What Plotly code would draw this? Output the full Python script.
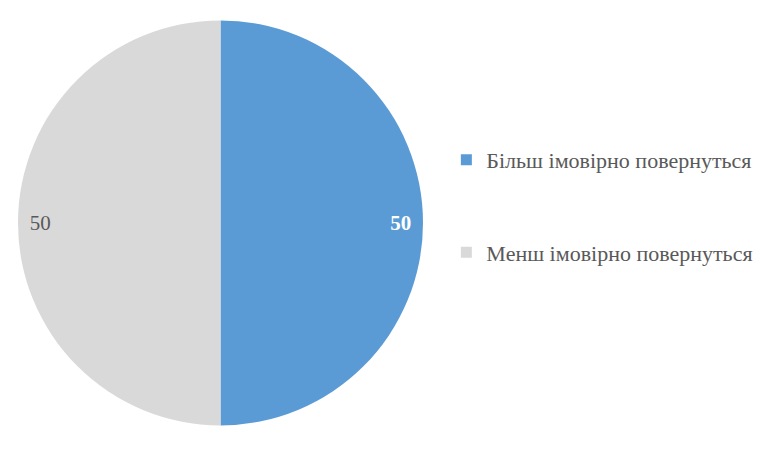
import plotly.graph_objects as go

labels = ["Більш імовірно повернуться", "Менш імовірно повернуться"]
values = [50, 50]
colors = ["#5B9BD5", "#D9D9D9"]
label_colors = ["white", "#595959"]
label_templates = ["<b>%{value}</b>", "%{value}"]

FONT = "Liberation Serif"
domain = dict(x=[10 / 780, 415 / 780], y=[0.069, 0.976])

fig = go.Figure()

# solid pie
fig.add_trace(go.Pie(
    labels=labels, values=values, sort=False, direction="clockwise",
    marker=dict(colors=colors, line=dict(width=0)),
    textinfo="none", hoverinfo="label+value",
    domain=domain, showlegend=False,
))

# transparent ring on top, only to put the labels near the outer edge
fig.add_trace(go.Pie(
    labels=labels, values=values, sort=False, direction="clockwise",
    hole=0.78,
    marker=dict(colors=["rgba(0,0,0,0)"] * 2, line=dict(width=0)),
    texttemplate=label_templates, textposition="inside",
    insidetextorientation="horizontal",
    textfont=dict(family=FONT, size=21, color=label_colors),
    hoverinfo="skip", domain=domain, showlegend=False,
))

# legend entries
for i, name in enumerate(labels):
    fig.add_trace(go.Scatter(
        x=[None], y=[None], mode="markers", name=name,
        legendgroup=f"g{i}",
        marker=dict(symbol="square", size=11, color=colors[i]),
    ))

fig.update_layout(
    width=780, height=450,
    margin=dict(l=0, r=0, t=0, b=0),
    paper_bgcolor="white", plot_bgcolor="white",
    xaxis=dict(visible=False), yaxis=dict(visible=False),
    legend=dict(
        x=0.562, y=0.559, xanchor="left", yanchor="middle",
        font=dict(family=FONT, size=22, color="#595959"),
        tracegroupgap=61, itemwidth=30,
    ),
)

fig.write_html("out.html")
